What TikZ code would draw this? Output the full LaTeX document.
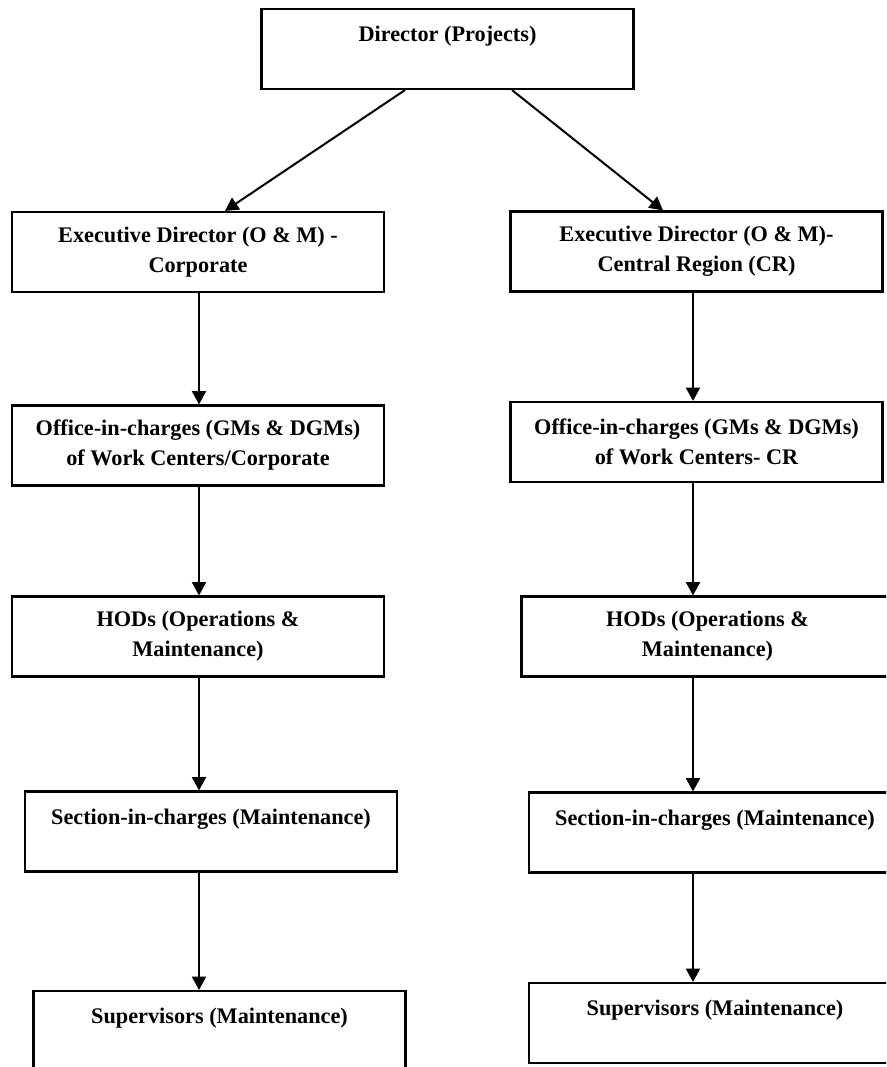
\documentclass[tikz,border=0pt]{standalone}
\usepackage{fontspec}
\setmainfont{Liberation Serif}
\usetikzlibrary{arrows.meta}
\begin{document}
\begin{tikzpicture}[x=0.75pt, y=-0.75pt,
  orgbox/.style={draw, line width=1.6pt, rectangle, minimum width=279pt, minimum height=60pt,
    inner sep=0pt, align=center, font=\fontsize{16.7pt}{22.5pt}\selectfont\bfseries},
  link/.style={line width=1.5pt, -{Triangle[length=10pt, width=10.5pt]}}]
\useasboundingbox (0,0) rectangle (886,1067);
\clip (0,0) rectangle (886,1067);

% top of the hierarchy
\node[orgbox] (dir) at (447.5,49) {Director (Projects)\\ \mbox{}};

% corporate column
\node[orgbox] (ed1)  at (198,252)    {Executive Director (O \& M) -\\ Corporate};
\node[orgbox] (off1) at (198,445.5)  {Office-in-charges (GMs \& DGMs)\\ of Work Centers/Corporate};
\node[orgbox] (hod1) at (198,636.5)  {HODs (Operations \&\\ Maintenance)};
\node[orgbox] (sec1) at (211,831.5)  {Section-in-charges (Maintenance)\\ \mbox{}};
\node[orgbox] (sup1) at (219.5,1031) {Supervisors (Maintenance)\\ \mbox{}};

% central region column
\node[orgbox] (ed2)  at (696.5,251.5) {Executive Director (O \& M)-\\ Central Region (CR)};
\node[orgbox] (off2) at (696.5,442)   {Office-in-charges (GMs \& DGMs)\\ of Work Centers- CR};
\node[orgbox] (hod2) at (707.5,636.5) {HODs (Operations \&\\ Maintenance)};
\node[orgbox] (sec2) at (715,832.5)   {Section-in-charges (Maintenance)\\ \mbox{}};
\node[orgbox] (sup2) at (715,1023)    {Supervisors (Maintenance)\\ \mbox{}};

% x positions of the connectors
\coordinate (dl) at (405,0);
\coordinate (dr) at (512,0);
\coordinate (el) at (225,0);
\coordinate (er) at (663,0);
\coordinate (L)  at (199,0);
\coordinate (R)  at (693,0);

\draw[link] (dir.south -| dl) -- (ed1.north -| el);
\draw[link] (dir.south -| dr) -- (ed2.north -| er);

\draw[link] (ed1.south -| L)  -- (off1.north -| L);
\draw[link] (off1.south -| L) -- (hod1.north -| L);
\draw[link] (hod1.south -| L) -- (sec1.north -| L);
\draw[link] (sec1.south -| L) -- (sup1.north -| L);

\draw[link] (ed2.south -| R)  -- (off2.north -| R);
\draw[link] (off2.south -| R) -- (hod2.north -| R);
\draw[link] (hod2.south -| R) -- (sec2.north -| R);
\draw[link] (sec2.south -| R) -- (sup2.north -| R);
\end{tikzpicture}
\end{document}
